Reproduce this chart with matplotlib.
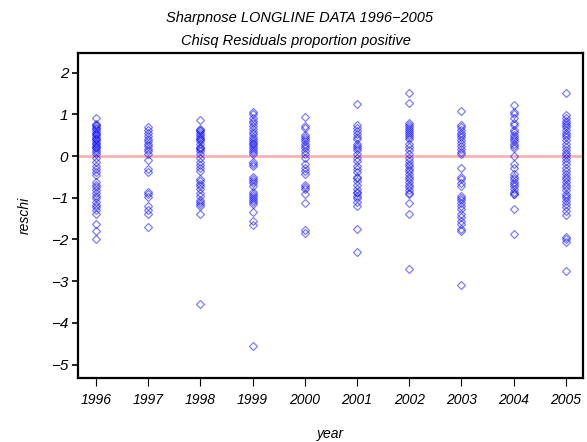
import matplotlib
matplotlib.use("Agg")
import matplotlib.pyplot as plt

plt.rcParams['font.family'] = ['Liberation Sans', 'DejaVu Sans']

years = [1996, 1997, 1998, 1999, 2000, 2001, 2002, 2003, 2004, 2005]

# chi-square residuals, one list per year
res_1996 = [0.92, 0.78, 0.75, 0.72, 0.68, 0.65, 0.6, 0.55, 0.52, 0.5, 0.45,
            0.42, 0.4, 0.35, 0.32, 0.3, 0.25, 0.22, 0.2, 0.15, 0.1, 0.05,
            -0.05, -0.15, -0.25, -0.3, -0.38, -0.45,
            -0.62, -0.7, -0.75, -0.82, -0.88, -0.95, -1.0, -1.1, -1.18, -1.22,
            -1.3, -1.38, -1.62, -1.8, -2.0]
res_1997 = [0.7, 0.62, 0.55, 0.48, 0.42, 0.35, 0.3, 0.25, 0.18, 0.12, 0.05,
            -0.1, -0.3, -0.38, -0.85, -0.9, -0.98, -1.2, -1.3, -1.4, -1.7]
res_1998 = [0.87, 0.65, 0.62, 0.6, 0.55, 0.5, 0.45, 0.42, 0.4, 0.35, 0.3, 0.22,
            0.2, 0.18, 0.12, 0.05, -0.05, -0.15, -0.22, -0.28, -0.35, -0.55,
            -0.6, -0.68, -0.72, -0.8, -0.88, -0.95, -1.05, -1.1, -1.15, -1.2,
            -1.38, -3.55]
res_1999 = [1.05, 1.0, 0.92, 0.85, 0.8, 0.72, 0.65, 0.58, 0.52, 0.45, 0.4, 0.35,
            0.32, 0.3, 0.25, 0.2, 0.15, 0.1, 0.05, -0.15, -0.2, -0.25, -0.5,
            -0.55, -0.6, -0.65, -0.72, -0.85, -0.9, -0.95, -1.0, -1.05, -1.1,
            -1.15, -1.35, -1.55, -1.65, -4.55]
res_2000 = [0.93, 0.72, 0.68, 0.5, 0.45, 0.4, 0.35, 0.3, 0.25, 0.2, 0.12, 0.05,
            -0.05, -0.2, -0.28, -0.35, -0.42, -0.7, -0.75, -0.78, -0.9, -1.12,
            -1.78, -1.85]
res_2001 = [1.25, 0.75, 0.68, 0.6, 0.52, 0.45, 0.4, 0.3, 0.25, 0.2, 0.15, 0.05,
            -0.05, -0.12, -0.25, -0.3, -0.38, -0.5, -0.52, -0.6, -0.7, -0.8,
            -0.85, -0.88, -0.95, -1.0, -1.1, -1.2, -1.75, -2.3]
res_2002 = [1.5, 1.27, 0.8, 0.75, 0.7, 0.65, 0.6, 0.55, 0.5, 0.45, 0.4, 0.3,
            0.22, 0.15, 0.05, -0.05, -0.12, -0.2, -0.25, -0.3, -0.35, -0.42,
            -0.5, -0.55, -0.62, -0.7, -0.75, -0.82, -0.88, -0.92, -1.12, -1.38,
            -2.7]
res_2003 = [1.07, 0.75, 0.7, 0.62, 0.55, 0.5, 0.45, 0.38, 0.32, 0.25, 0.18, 0.1,
            0.05, -0.28, -0.5, -0.55, -0.65, -0.72, -0.95, -1.0, -1.05, -1.12,
            -1.2, -1.28, -1.4, -1.45, -1.55, -1.62, -1.75, -1.8, -3.1]
res_2004 = [1.23, 1.05, 1.0, 0.92, 0.8, 0.75, 0.62, 0.58, 0.5, 0.45, 0.4, 0.35,
            0.3, 0.25, 0.2, 0.0, -0.2, -0.28, -0.42, -0.5, -0.55, -0.62, -0.68,
            -0.72, -0.78, -0.85, -0.9, -0.92, -1.27, -1.88]
res_2005 = [1.5, 0.98, 0.9, 0.85, 0.8, 0.75, 0.7, 0.62, 0.55, 0.5, 0.45, 0.38,
            0.3, 0.22, 0.15, 0.08, 0.02, -0.05, -0.12, -0.2, -0.28, -0.35, -0.42,
            -0.5, -0.55, -0.62, -0.7, -0.75, -0.82, -0.9, -0.95, -1.0, -1.08,
            -1.15, -1.22, -1.32, -1.42, -1.95, -2.0, -2.05, -2.75]

residuals = [res_1996, res_1997, res_1998, res_1999, res_2000,
             res_2001, res_2002, res_2003, res_2004, res_2005]

fig = plt.figure(figsize=(5.87, 4.42), dpi=100)
ax = fig.add_axes([0.1329, 0.1448, 0.8603, 0.7353])

ax.axhline(0, color="#ffaaaa", lw=1.8, zorder=1)
for yr, vals in zip(years, residuals):
    ax.plot([yr] * len(vals), vals, ls="none", marker="D", ms=4.0,
            mfc="none", mec=(0, 0, 1, 0.5), mew=0.9, zorder=2)

ax.set_xlim(1995.655, 2005.33)
ax.set_ylim(-5.32, 2.47)
ax.set_xticks(years)
ax.set_yticks([2, 1, 0, -1, -2, -3, -4, -5])
ax.set_yticklabels(["2", "1", "0", "\u22121", "\u22122", "\u22123", "\u22124", "\u22125"])

for s in ax.spines.values():
    s.set_linewidth(1.6)
ax.tick_params(axis="x", length=6, width=0.8, pad=5, labelsize=10)
ax.tick_params(axis="y", length=4, width=1.2, pad=3, labelsize=11)
for lab in ax.get_xticklabels() + ax.get_yticklabels():
    lab.set_fontstyle("italic")

ax.set_xlabel("year", fontsize=10, fontstyle="italic", labelpad=14)
ax.set_ylabel("reschi", fontsize=10, fontstyle="italic", labelpad=14)

fig.text(0.51, 0.96, "Sharpnose LONGLINE DATA 1996\u22122005", ha="center",
         va="center", fontsize=10.5, fontstyle="italic")
fig.text(0.505, 0.908, "Chisq Residuals proportion positive", ha="center",
         va="center", fontsize=10.5, fontstyle="italic")

fig.savefig("out.png", dpi=100)
